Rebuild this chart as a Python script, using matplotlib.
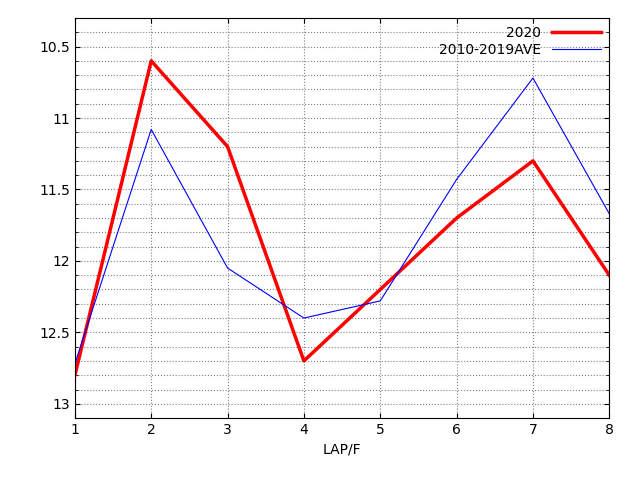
import matplotlib.pyplot as plt
import numpy as np

laps = [1, 2, 3, 4, 5, 6, 7, 8]
y2020 = [12.8, 10.6, 11.2, 12.7, 12.2, 11.7, 11.3, 12.1]
yave = [12.72, 11.08, 12.05, 12.4, 12.28, 11.43, 10.72, 11.67]

fig = plt.figure(figsize=(6.4, 4.8), dpi=100)
ax = fig.add_axes([0.117, 0.129, 0.835, 0.8335])

ax.plot(laps, y2020, color='red', lw=2.5, label='2020')
ax.plot(laps, yave, color='blue', lw=0.8, label='2010-2019AVE')

ax.set_xlim(1, 8)
ax.set_ylim(13.1, 10.3)
ax.set_yticks([10.5, 11, 11.5, 12, 12.5, 13])
ax.set_yticklabels(['10.5', '11', '11.5', '12', '12.5', '13'])
ax.set_yticks(np.arange(10.4, 13.05, 0.1), minor=True)
ax.tick_params(direction='in', which='both', top=True, right=True)
ax.grid(True, which='both', color='gray', ls=':', lw=0.8)
ax.set_xlabel('LAP/F')

ax.legend(loc='upper right', markerfirst=False, frameon=False,
          handlelength=3.5, borderaxespad=0.2, labelspacing=0.2)

fig.savefig('out.png')
